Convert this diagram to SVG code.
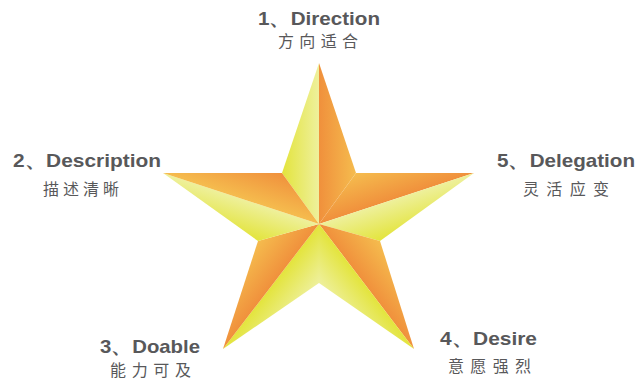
<svg xmlns="http://www.w3.org/2000/svg" width="641" height="382" viewBox="0 0 641 382">
<style>
.en{font-family:"Liberation Sans",Arial,sans-serif;font-weight:bold;font-size:18.5px;fill:#58585a}
.zh{font-family:"Noto Sans CJK SC",sans-serif;font-size:16px;fill:#58585a}
</style>
<defs>
<linearGradient id="o1" gradientUnits="userSpaceOnUse" x1="319" y1="173" x2="356" y2="173"><stop offset="0" stop-color="#f0903c"/><stop offset="1" stop-color="#f5bc4e"/></linearGradient>
<linearGradient id="o3" gradientUnits="userSpaceOnUse" x1="367.5" y1="208" x2="356" y2="173"><stop offset="0" stop-color="#f0903c"/><stop offset="1" stop-color="#f5bc4e"/></linearGradient>
<linearGradient id="o5" gradientUnits="userSpaceOnUse" x1="349.5" y1="264" x2="380" y2="241"><stop offset="0" stop-color="#f0903c"/><stop offset="1" stop-color="#f5bc4e"/></linearGradient>
<linearGradient id="o8" gradientUnits="userSpaceOnUse" x1="288.2" y1="264.2" x2="258" y2="241"><stop offset="0" stop-color="#f0903c"/><stop offset="1" stop-color="#f5bc4e"/></linearGradient>
<linearGradient id="o10" gradientUnits="userSpaceOnUse" x1="270.5" y1="208.1" x2="282" y2="173"><stop offset="0" stop-color="#f5bc4e"/><stop offset="1" stop-color="#f0903c"/></linearGradient>
<linearGradient id="y1" gradientUnits="userSpaceOnUse" x1="319" y1="173" x2="282" y2="173"><stop offset="0" stop-color="#eef09c"/><stop offset="1" stop-color="#e3e43c"/></linearGradient>
<linearGradient id="y4" gradientUnits="userSpaceOnUse" x1="369" y1="207.5" x2="380" y2="241"><stop offset="0" stop-color="#eef09c"/><stop offset="1" stop-color="#e3e43c"/></linearGradient>
<linearGradient id="y6" gradientUnits="userSpaceOnUse" x1="347.4" y1="261.4" x2="319" y2="283"><stop offset="0" stop-color="#e3e43c"/><stop offset="1" stop-color="#eef09c"/></linearGradient>
<linearGradient id="y7" gradientUnits="userSpaceOnUse" x1="290.5" y1="261" x2="319" y2="283"><stop offset="0" stop-color="#e3e43c"/><stop offset="1" stop-color="#eef09c"/></linearGradient>
<linearGradient id="y9" gradientUnits="userSpaceOnUse" x1="268.9" y1="207.6" x2="258" y2="241"><stop offset="0" stop-color="#eef09c"/><stop offset="1" stop-color="#e3e43c"/></linearGradient>
</defs>
<g id="star">
<polygon points="319,63 282,173 319,224" fill="url(#y1)"/>
<polygon points="319,63 356,173 319,224" fill="url(#o1)"/>
<polygon points="474,173 356,173 319,224" fill="url(#o3)"/>
<polygon points="474,173 380,241 319,224" fill="url(#y4)"/>
<polygon points="414,349 380,241 319,224" fill="url(#o5)"/>
<polygon points="414,349 319,283 319,224" fill="url(#y6)"/>
<polygon points="223,349 319,283 319,224" fill="url(#y7)"/>
<polygon points="223,349 258,241 319,224" fill="url(#o8)"/>
<polygon points="163,173 258,241 319,224" fill="url(#y9)"/>
<polygon points="163,173 282,173 319,224" fill="url(#o10)"/>
</g>
<g id="label1">
<text class="en" x="258" y="25" textLength="122" lengthAdjust="spacingAndGlyphs">1、Direction</text>
<text class="zh" x="278" y="46.5" textLength="80">方向适合</text>
</g>
<g id="label2">
<text class="en" x="13" y="166.5" textLength="148" lengthAdjust="spacingAndGlyphs">2、Description</text>
<text class="zh" x="43" y="195" textLength="76">描述清晰</text>
</g>
<g id="label5">
<text class="en" x="497" y="166.5" textLength="138" lengthAdjust="spacingAndGlyphs">5、Delegation</text>
<text class="zh" x="523" y="195" textLength="86">灵活应变</text>
</g>
<g id="label3">
<text class="en" x="100" y="353" textLength="100" lengthAdjust="spacingAndGlyphs">3、Doable</text>
<text class="zh" x="110" y="375.5" textLength="81">能力可及</text>
</g>
<g id="label4">
<text class="en" x="440" y="345" textLength="97" lengthAdjust="spacingAndGlyphs">4、Desire</text>
<text class="zh" x="448" y="371.5" textLength="83">意愿强烈</text>
</g>
</svg>
